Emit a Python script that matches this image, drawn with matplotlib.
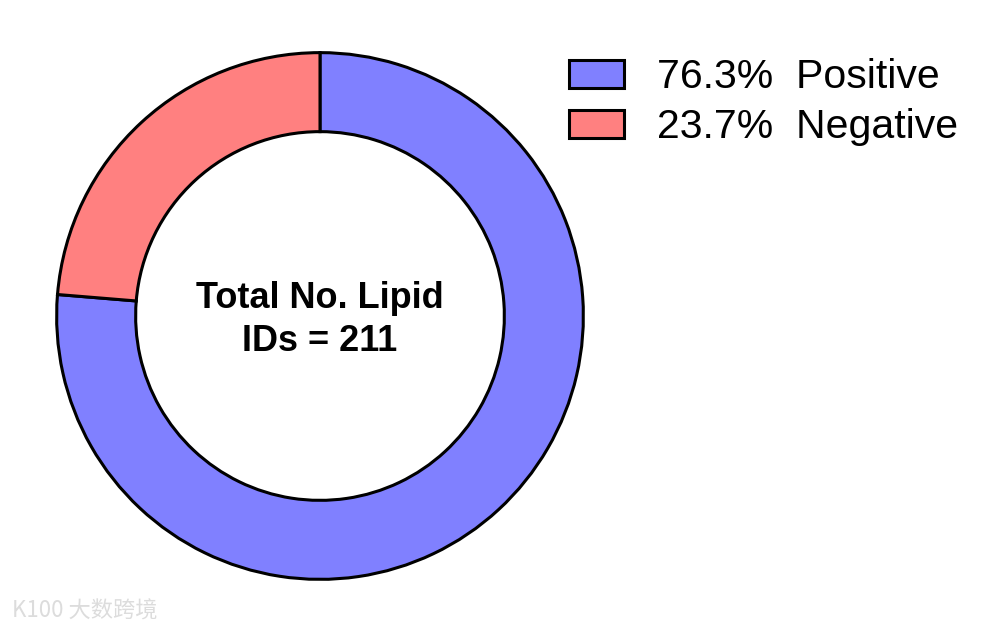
import matplotlib.pyplot as plt

# data
labels = ["Positive", "Negative"]
shares = [76.3, 23.7]
colors = ["#8080FF", "#FF8080"]
total_ids = 211

plt.rcParams['font.family'] = ['Liberation Sans', 'DejaVu Sans']

fig = plt.figure(figsize=(10.05, 6.32), dpi=100)
# donut axes: centre about (320, 316) px, outer radius about 266 px
ax = fig.add_axes([54 / 1005, 50 / 632, 532 / 1005, 532 / 632])

wedges, _ = ax.pie(shares, colors=colors, startangle=90, counterclock=False,
                   radius=1.0,
                   wedgeprops=dict(width=0.3, edgecolor='black', linewidth=2.2))
ax.set_xlim(-1.01, 1.01)
ax.set_ylim(-1.01, 1.01)
ax.set_aspect('equal')
ax.axis('off')

ax.text(0, -0.015, f"Total No. Lipid\nIDs = {total_ids}", ha='center', va='center',
        fontsize=26, fontweight='bold', linespacing=1.3)

leg_labels = [f"{s:.1f}%  {l}" for s, l in zip(shares, labels)]
fig.legend(wedges, leg_labels, loc='upper left',
           bbox_to_anchor=(569 / 1005, 1 - 58 / 632),
           frameon=False, fontsize=29.5, borderpad=0, borderaxespad=0,
           handlelength=1.35, handleheight=0.67, handletextpad=0.8,
           labelspacing=0.3)

# faint watermark, bottom left
fig.text(0.012, 0.022, "K100 大数跨境", fontsize=16, color='#dcdcdc',
         family=['Noto Sans CJK SC', 'DejaVu Sans'])

fig.savefig("out.png", dpi=100)
